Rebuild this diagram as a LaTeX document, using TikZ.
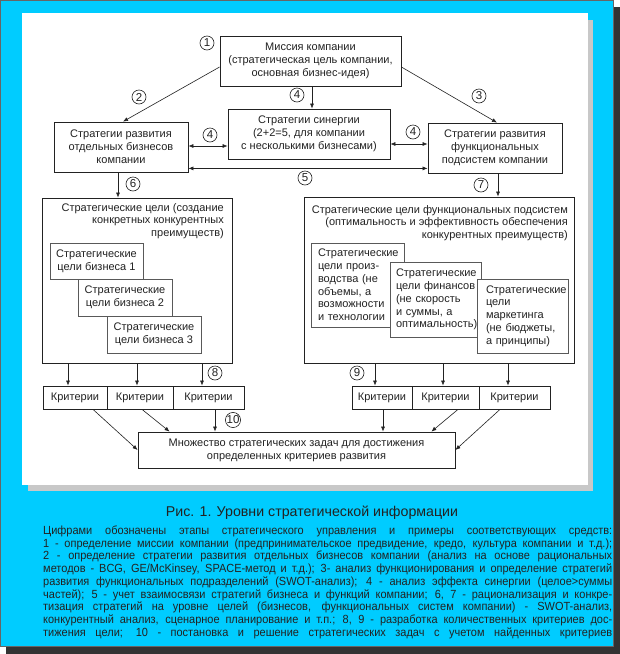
\documentclass[tikz,border=0pt]{standalone}
\usepackage{fontspec}
\setmainfont{Liberation Sans}
\newfontfamily\notesfont[FakeStretch=0.93]{Liberation Sans}
\usetikzlibrary{arrows.meta,calc}
\definecolor{cyanbg}{HTML}{00CCFF}
\definecolor{darkfr}{HTML}{333333}
\definecolor{shadegr}{HTML}{C8C8C8}
\definecolor{inkgr}{HTML}{222222}
\newcommand{\boxfont}{\fontsize{11}{12.8}\selectfont}
\begin{document}
\begin{tikzpicture}[x=1pt,y=-1pt,
  box/.style={draw=inkgr,line width=0.8pt,fill=white,inner sep=0pt,align=center,text=inkgr,font=\boxfont},
  subbox/.style={box,draw=black!65,line width=1pt},
  num/.style={circle,draw=inkgr,line width=0.6pt,inner sep=0pt,minimum size=14pt,text=inkgr,font=\fontsize{11.5}{11.5}\selectfont},
  arr/.style={draw=inkgr,line width=0.6pt,-{Latex[length=5pt,width=4pt]}},
  darr/.style={draw=inkgr,line width=0.6pt,{Latex[length=5pt,width=4pt]}-{Latex[length=5pt,width=4pt]}}]
\useasboundingbox (0,0) rectangle (620,654);
\fill[darkfr] (6,7) rectangle (620,654);
\filldraw[fill=cyanbg,draw=black!60,line width=0.6pt] (0.3,0.3) rectangle (613.7,646.7);
\fill[shadegr] (28,20) rectangle (593,491);
\fill[white] (22,13) rectangle (588,485);

\node[box,minimum width=181pt,minimum height=50pt] (mission) at (310.5,61) {Миссия компании\\(стратегическая цель компании,\\основная бизнес-идея)};
\node[box,minimum width=134pt,minimum height=50pt] (bizstrat) at (121,147) {Стратегии развития\\отдельных бизнесов\\компании};
\node[box,minimum width=162pt,minimum height=50pt] (synergy) at (309,134) {Стратегии синергии\\(2+2=5, для компании\\с несколькими бизнесами)};
\node[box,minimum width=134pt,minimum height=50pt] (funcstrat) at (495,148) {Стратегии развития\\функциональных\\подсистем компании};

\node[box,minimum width=190pt,minimum height=165pt] (bizgoals) at (137,280.5) {};
\node[anchor=north east,inner sep=0pt,align=right,text=inkgr,font=\boxfont] (bizgoalstxt) at (224,203) {Стратегические цели (создание\\конкретных конкурентных\\преимуществ)};
\node[subbox,minimum width=93pt,minimum height=36pt] (bg1) at (96.5,261) {Стратегические\\цели бизнеса 1};
\node[subbox,minimum width=94pt,minimum height=37pt] (bg2) at (125,297.5) {Стратегические\\цели бизнеса 2};
\node[subbox,minimum width=94pt,minimum height=37pt] (bg3) at (154,334.5) {Стратегические\\цели бизнеса 3};

\node[box,minimum width=270pt,minimum height=166pt] (funcgoals) at (439,280) {};
\node[anchor=north east,inner sep=0pt,align=right,text=inkgr,font=\boxfont] (funcgoalstxt) at (568,205) {Стратегические цели функциональных подсистем\\(оптимальность и эффективность обеспечения\\конкурентных преимуществ)};
\node[subbox,align=left,text width=79pt,inner xsep=7pt,minimum height=84pt] (fg1) at (357.5,285) {Стратегические\\\mbox{цели произ-}\\\mbox{водства (не}\\\mbox{объемы, а}\\возможности\\\mbox{и технологии}};
\node[subbox,align=left,text width=79pt,inner xsep=6pt,minimum height=75pt] (fg2) at (435.5,299.5) {Стратегические\\\mbox{цели финансов}\\\mbox{(не скорость}\\\mbox{и суммы, а}\\оптимальность)};
\node[subbox,align=left,text width=73pt,inner xsep=9pt,minimum height=74pt] (fg3) at (522.5,316) {Стратегические\\цели\\маркетинга\\\mbox{(не бюджеты,}\\\mbox{а принципы)}};

\node[box,minimum width=64pt,minimum height=23pt] (lc1) at (75,397.5) {Критерии};
\node[box,minimum width=66pt,minimum height=23pt] (lc2) at (140,397.5) {Критерии};
\node[box,minimum width=71pt,minimum height=23pt] (lc3) at (208.5,397.5) {Критерии};
\node[box,minimum width=60pt,minimum height=23pt] (rc1) at (382,397.5) {Критерии};
\node[box,minimum width=67pt,minimum height=23pt] (rc2) at (445.5,397.5) {Критерии};
\node[box,minimum width=71pt,minimum height=23pt] (rc3) at (514.5,397.5) {Критерии};
\node[box,minimum width=317pt,minimum height=36pt] (tasks) at (296.5,450) {Множество стратегических задач для достижения\\определенных критериев развития};

\node[num] (c1) at (207,43) {1};
\node[num] (c2) at (139,97) {2};
\node[num] (c3) at (479,96) {3};
\node[num] (c4a) at (297,95) {4};
\node[num] (c4b) at (210,135) {4};
\node[num] (c4c) at (413,132) {4};
\node[num] (c5) at (305,178) {5};
\node[num] (c6) at (133,184) {6};
\node[num] (c7) at (481,185) {7};
\node[num] (c8) at (215,373) {8};
\node[num] (c9) at (357,373) {9};
\node[num] (c10) at (233,420) {10};

\draw[arr] ([yshift=-6pt]mission.west) -- ([xshift=2pt]bizstrat.north);
\draw[arr] ([yshift=-6pt]mission.east) -- ([xshift=2pt]funcstrat.north);
\draw[arr] ([xshift=1.5pt]mission.south) -- ([xshift=3pt]synergy.north);
\draw[darr] ([yshift=1pt]bizstrat.east) -- ([yshift=1pt]bizstrat.east -| synergy.west);
\draw[darr] ([yshift=-10pt]synergy.east) -- ([yshift=-10pt]synergy.east -| funcstrat.west);
\draw[darr] ([yshift=4pt]bizstrat.south east) -- ([yshift=4pt]bizstrat.south east -| funcstrat.west);
\draw[arr] ([xshift=-3pt]bizstrat.south) -- ([xshift=-3pt]bizstrat.south |- bizgoals.north);
\draw[arr] ([xshift=3pt]funcstrat.south) -- ([xshift=3pt]funcstrat.south |- funcgoals.north);

\draw[arr] ([xshift=-7pt]lc1.north |- bizgoals.south) -- ([xshift=-7pt]lc1.north);
\draw[arr] ([xshift=-3pt]lc2.north |- bizgoals.south) -- ([xshift=-3pt]lc2.north);
\draw[arr] ([xshift=-6.5pt]lc3.north |- bizgoals.south) -- ([xshift=-6.5pt]lc3.north);
\draw[arr] ([xshift=-7pt]rc1.north |- funcgoals.south) -- ([xshift=-7pt]rc1.north);
\draw[arr] ([xshift=-2.5pt]rc2.north |- funcgoals.south) -- ([xshift=-2.5pt]rc2.north);
\draw[arr] ([xshift=-6.5pt]rc3.north |- funcgoals.south) -- ([xshift=-6.5pt]rc3.north);

\draw[arr] ([xshift=18pt]lc1.south) -- (tasks.west);
\draw[arr] ([xshift=2pt]lc2.south) -- ([xshift=32pt]tasks.north west);
\draw[arr] ([xshift=6.5pt]lc3.south) -- ([xshift=6.5pt]lc3.south |- tasks.north);
\draw[arr] ([xshift=1pt]rc1.south) -- ([xshift=1pt]rc1.south |- tasks.north);
\draw[arr] ([xshift=12.5pt]rc2.south) -- ([xshift=-24pt]tasks.north east);
\draw[arr] ([xshift=-14.5pt]rc3.south) -- (tasks.east);

\node[text=inkgr,font=\fontsize{14.2}{15}\selectfont] (caption) at (312,513) {Рис. 1. Уровни стратегической информации};
\node[anchor=north west,inner sep=0pt,align=left,text=inkgr,font=\notesfont\fontsize{11.8}{12.75}\selectfont] (notes) at (43,525.5) {%
\makebox[569pt][s]{Цифрами обозначены этапы стратегического управления и примеры соответствующих средств:}\\
\makebox[569pt][s]{1 - определение миссии компании (предпринимательское предвидение, кредо, культура компании и т.д.);}\\
\makebox[569pt][s]{2 - определение стратегии развития отдельных бизнесов компании (анализ на основе рациональных}\\
\makebox[569pt][s]{методов - BCG, GE/McKinsey, SPACE-метод и т.д.); 3- анализ функционирования и определение стратегий}\\
\makebox[569pt][s]{развития функциональных подразделений (SWOT-анализ); 4 - анализ эффекта синергии (целое>суммы}\\
\makebox[569pt][s]{частей); 5 - учет взаимосвязи стратегий бизнеса и функций компании; 6, 7 - рационализация и конкре-}\\
\makebox[569pt][s]{тизация стратегий на уровне целей (бизнесов, функциональных систем компании) - SWOT-анализ,}\\
\makebox[569pt][s]{конкурентный анализ, сценарное планирование и т.п.; 8, 9 - разработка количественных критериев дос-}\\
\makebox[569pt][s]{тижения цели; 10 - постановка и решение стратегических задач с учетом найденных критериев}};
\end{tikzpicture}
\end{document}
